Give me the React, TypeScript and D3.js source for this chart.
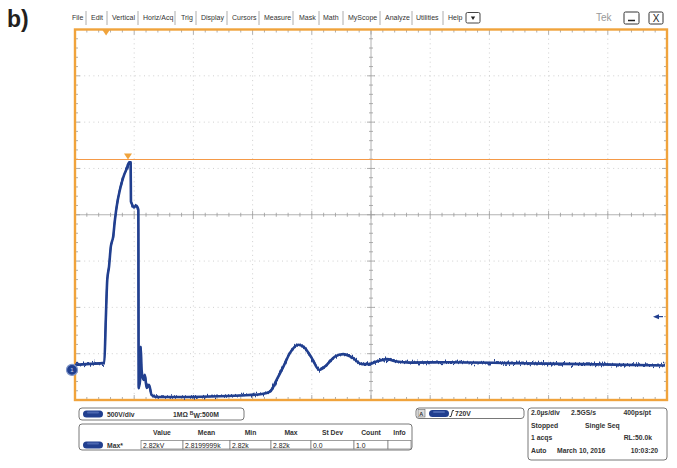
import React, { useEffect, useRef } from 'react';
import * as d3 from 'd3';

const W = 677;
const H = 468;

// menu bar of the scope UI
const menuItems = ['File', 'Edit', 'Vertical', 'Horiz/Acq', 'Trig', 'Display', 'Cursors', 'Measure', 'Mask', 'Math', 'MyScope', 'Analyze', 'Utilities', 'Help'];

// captured trace: time from left screen edge (µs), volts
const traceTime = [0, 0.51, 0.99, 1.04, 1.09, 1.15, 1.21, 1.29, 1.35, 1.43, 1.52, 1.63, 1.75, 1.83, 1.88, 1.89, 1.93, 1.99, 2.06, 2.14, 2.15, 2.2, 2.22, 2.25, 2.31, 2.36, 2.42, 2.5, 2.59, 2.76, 3.55, 4.56, 5.57, 6.32, 6.59, 6.81, 7.04, 7.26, 7.54, 7.77, 8.0, 8.25, 8.5, 8.78, 9.06, 9.35, 9.69, 9.91, 10.19, 10.53, 10.87, 11.32, 12.67, 14.92, 17.17, 19.93];
const traceVolts = [54, 65, 76, 541, 974, 1115, 1331, 1439, 1623, 1807, 1948, 2078, 2175, 2240, 2240, 1818, 1785, 1753, 1775, 1731, -195, -108, 249, 0, -108, -54, -195, -162, -271, -292, -292, -287, -276, -260, -235, -108, 36, 181, 271, 235, 127, 0, 54, 144, 170, 137, 62, 62, 90, 116, 90, 79, 83, 72, 62, 47];

// scope settings
const voltsPerDiv = 500;
const usPerDiv = 2;
const groundOffsetDiv = -3.35;
const triggerTimeUs = 1.05;
const cursorTimeUs = 1.79;
const cursorVolts = 2272;
const trigMarkVolts = 575;

// measurement readout
const measureHeaders = ['Value', 'Mean', 'Min', 'Max', 'St Dev', 'Count', 'Info'];
const measureValues = ['2.82kV', '2.8199999k', '2.82k', '2.82k', '0.0', '1.0', ''];

// acquisition readout rows (left, middle, right)
const acqRows = [
  ['2.0µs/div', '2.5GS/s', '400ps/pt'],
  ['Stopped', 'Single Seq', ''],
  ['1 acqs', '', 'RL:50.0k'],
  ['Auto', 'March 10, 2016', '10:03:20'],
];

const App: React.FC = () => {
  const svgRef = useRef<SVGSVGElement | null>(null);

  useEffect(() => {
    const svg = d3.select(svgRef.current);
    svg.selectAll('*').remove();

    const font = 'Liberation Sans, Arial, sans-serif';
    const orange = '#f0a33c';
    const blue = '#213f8f';
    const left = 75, right = 667, top = 29.5, bottom = 400;

    const x = d3.scaleLinear().domain([0, usPerDiv * 10]).range([left, right]);
    const y = d3
      .scaleLinear()
      .domain([(-4 - groundOffsetDiv) * voltsPerDiv, (4 - groundOffsetDiv) * voltsPerDiv])
      .range([bottom, top]);
    const xDiv = d3.scaleLinear().domain([0, 10]).range([left, right]);
    const yDiv = d3.scaleLinear().domain([-4, 4]).range([bottom, top]);

    svg.append('rect').attr('width', W).attr('height', H).attr('fill', '#fff');

    // jitter filter to give the trace its sampled-noise look (vertical only)
    const defs = svg.append('defs');
    const f = defs.append('filter').attr('id', 'noise').attr('filterUnits', 'userSpaceOnUse')
      .attr('x', 0).attr('y', 0).attr('width', W).attr('height', H);
    f.append('feTurbulence').attr('type', 'fractalNoise').attr('baseFrequency', '0.9 0.02').attr('numOctaves', 2).attr('seed', 3).attr('result', 'turb');
    f.append('feColorMatrix').attr('in', 'turb').attr('type', 'matrix')
      .attr('values', '0 0 0 0 0.5  0 1 0 0 0  0 0 0 0 0  0 0 0 0 1').attr('result', 'map');
    f.append('feDisplacementMap').attr('in', 'SourceGraphic').attr('in2', 'map').attr('scale', 9)
      .attr('xChannelSelector', 'R').attr('yChannelSelector', 'G');

    // panel label
    svg
      .append('text')
      .attr('x', 7)
      .attr('y', 27)
      .attr('font-family', 'Liberation Sans Narrow, Arial Narrow, sans-serif')
      .attr('font-weight', 'bold')
      .attr('font-size', 23)
      .attr('fill', '#231f20')
      .text('b)');

    // menu bar
    const menuX = [72, 91, 112, 143, 181, 201, 232, 264, 299, 323, 348, 385, 416, 448];
    const sepX = [86, 107, 138, 175, 196, 227, 259, 293, 319, 343, 380, 412, 443];
    const menu = svg.append('g').attr('font-family', font).attr('font-size', 7).attr('fill', '#333');
    menuItems.forEach((m, i) => {
      menu.append('text').attr('x', menuX[i]).attr('y', 20).text(m);
    });
    sepX.forEach(sx => {
      menu.append('line').attr('x1', sx).attr('x2', sx).attr('y1', 11).attr('y2', 25).attr('stroke', '#999').attr('stroke-width', 0.8);
    });
    menu.append('rect').attr('x', 466).attr('y', 12.5).attr('width', 14).attr('height', 10.5).attr('rx', 1.5).attr('fill', '#fff').attr('stroke', '#444');
    menu.append('path').attr('d', 'M470.8,16.5 L475.2,16.5 L473,20 Z').attr('fill', '#222');
    menu.append('text').attr('x', 596).attr('y', 21).attr('font-size', 10).attr('fill', '#999').text('Tek');
    menu.append('rect').attr('x', 624).attr('y', 12).attr('width', 15).attr('height', 12).attr('rx', 1.5).attr('fill', '#fff').attr('stroke', '#333');
    menu.append('line').attr('x1', 628).attr('x2', 635).attr('y1', 20.5).attr('y2', 20.5).attr('stroke', '#222').attr('stroke-width', 1.5);
    menu.append('rect').attr('x', 649).attr('y', 12).attr('width', 14).attr('height', 12).attr('rx', 1.5).attr('fill', '#fff').attr('stroke', '#333');
    menu.append('text').attr('x', 656).attr('y', 22).attr('font-size', 10).attr('text-anchor', 'middle').attr('fill', '#222').text('X');

    // graticule
    const grid = svg.append('g');
    d3.range(1, 10).filter(i => i !== 5).forEach(i => {
      grid.append('line').attr('x1', xDiv(i)).attr('x2', xDiv(i)).attr('y1', top).attr('y2', bottom)
        .attr('stroke', '#c4c4c4').attr('stroke-width', 0.8).attr('stroke-dasharray', '1,3.6');
    });
    d3.range(-3, 4).filter(j => j !== 0).forEach(j => {
      grid.append('line').attr('x1', left).attr('x2', right).attr('y1', yDiv(j)).attr('y2', yDiv(j))
        .attr('stroke', '#c4c4c4').attr('stroke-width', 0.8).attr('stroke-dasharray', '1,3.6');
    });
    const cx = xDiv(5), cy = yDiv(0);
    grid.append('line').attr('x1', left).attr('x2', right).attr('y1', cy).attr('y2', cy).attr('stroke', '#a0a0a0').attr('stroke-width', 0.8);
    grid.append('line').attr('x1', cx).attr('x2', cx).attr('y1', top).attr('y2', bottom).attr('stroke', '#a0a0a0').attr('stroke-width', 0.8);

    const tickColor = '#9a9a9a';
    d3.range(0, 50.5, 1).forEach(k => {
      const d = k / 5;
      const major = k % 5 === 0;
      const xx = xDiv(d);
      const len = major ? 4 : 2;
      grid.append('line').attr('x1', xx).attr('x2', xx).attr('y1', cy - len).attr('y2', cy + len).attr('stroke', tickColor).attr('stroke-width', 0.8);
      grid.append('line').attr('x1', xx).attr('x2', xx).attr('y1', top).attr('y2', top + (major ? 5 : 3)).attr('stroke', tickColor).attr('stroke-width', 0.8);
      grid.append('line').attr('x1', xx).attr('x2', xx).attr('y1', bottom).attr('y2', bottom - (major ? 5 : 3)).attr('stroke', tickColor).attr('stroke-width', 0.8);
    });
    d3.range(-20, 20.5, 1).forEach(k => {
      const d = k / 5;
      const major = k % 5 === 0;
      const yy = yDiv(d);
      const len = major ? 4 : 2;
      grid.append('line').attr('x1', cx - len).attr('x2', cx + len).attr('y1', yy).attr('y2', yy).attr('stroke', tickColor).attr('stroke-width', 0.8);
      grid.append('line').attr('x1', left).attr('x2', left + (major ? 5 : 3)).attr('y1', yy).attr('y2', yy).attr('stroke', tickColor).attr('stroke-width', 0.8);
      grid.append('line').attr('x1', right).attr('x2', right - (major ? 5 : 3)).attr('y1', yy).attr('y2', yy).attr('stroke', tickColor).attr('stroke-width', 0.8);
    });

    // cursor line and markers
    const cyV = Math.round(y(cursorVolts)) + 0.5;
    svg.append('line').attr('x1', left).attr('x2', right).attr('y1', cyV).attr('y2', cyV).attr('stroke', '#f59a48').attr('stroke-width', 1.1);
    const cxT = x(cursorTimeUs);
    svg.append('path').attr('d', `M${cxT - 4},${cyV - 6} L${cxT + 4},${cyV - 6} L${cxT},${cyV} Z`).attr('fill', orange);
    const tx = x(triggerTimeUs);
    svg.append('path').attr('d', `M${tx - 4},${top} L${tx + 4},${top} L${tx},${top + 6} Z`).attr('fill', orange);

    // frame
    svg.append('rect').attr('x', left).attr('y', top).attr('width', right - left).attr('height', bottom - top)
      .attr('fill', 'none').attr('stroke', orange).attr('stroke-width', 2.4);

    // trace
    const pts: [number, number][] = traceTime.map((t, i) => [t, traceVolts[i]]);
    const line = d3
      .line<[number, number]>()
      .x(d => x(d[0]))
      .y(d => y(d[1]))
      .curve(d3.curveMonotoneX);
    const trace = svg.append('g');
    trace.append('path').attr('d', line(pts)).attr('fill', 'none').attr('stroke', blue)
      .attr('stroke-width', 2.6).attr('stroke-linejoin', 'round');
    trace.append('path').attr('d', line(pts)).attr('fill', 'none').attr('stroke', blue)
      .attr('stroke-width', 1.6).attr('stroke-linejoin', 'round').attr('filter', 'url(#noise)');

    // ground marker
    const gy = y(0);
    svg.append('circle').attr('cx', left - 3).attr('cy', gy).attr('r', 5.5).attr('fill', blue).attr('stroke', '#7f95c8').attr('stroke-width', 1.2);
    svg.append('text').attr('x', left - 3).attr('y', gy + 2.3).attr('text-anchor', 'middle').attr('font-family', font)
      .attr('font-size', 6).attr('fill', '#c8d4f0').text('1');

    // trigger level arrow at right edge
    const ty = y(trigMarkVolts);
    svg.append('path').attr('d', `M${right - 14},${ty} L${right - 8},${ty - 2.5} L${right - 8},${ty + 2.5} Z`).attr('fill', blue);
    svg.append('line').attr('x1', right - 9).attr('x2', right - 4).attr('y1', ty).attr('y2', ty).attr('stroke', blue).attr('stroke-width', 1.2);

    // readout panels
    const panel = svg.append('g').attr('font-family', font).attr('font-size', 6.8).attr('font-weight', 'bold').attr('fill', '#333');
    const pill = (px: number, py: number) => {
      panel.append('rect').attr('x', px).attr('y', py).attr('width', 20).attr('height', 7).attr('rx', 3.5).attr('fill', blue);
      panel.append('rect').attr('x', px + 4).attr('y', py + 1).attr('width', 12).attr('height', 2).attr('rx', 1).attr('fill', '#4a66b0');
    };
    const box = (bx: number, by: number, bw: number, bh: number) => {
      panel.append('rect').attr('x', bx).attr('y', by).attr('width', bw).attr('height', bh).attr('rx', 3)
        .attr('fill', '#fff').attr('stroke', '#555').attr('stroke-width', 0.8);
    };

    box(79, 408, 165, 12);
    pill(83, 410.5);
    panel.append('text').attr('x', 107).attr('y', 417).text('500V/div');
    const bw = panel.append('text').attr('x', 173).attr('y', 417);
    bw.append('tspan').text('1MΩ ');
    bw.append('tspan').attr('font-size', 5).attr('dy', -2).text('B');
    bw.append('tspan').attr('font-size', 6.8).attr('dy', 3).text('W');
    bw.append('tspan').attr('dy', -1).text(':500M');

    box(79, 424, 333, 26);
    pill(83, 441.5);
    panel.append('text').attr('x', 107).attr('y', 448).text('Max*');
    const cellX = [141, 183, 230, 271, 311, 354, 388, 411];
    measureHeaders.forEach((h, i) => {
      panel.append('text').attr('x', (cellX[i] + cellX[i + 1]) / 2).attr('y', 435).attr('text-anchor', 'middle').text(h);
    });
    measureValues.forEach((v, i) => {
      panel.append('rect').attr('x', cellX[i]).attr('y', 440.5).attr('width', cellX[i + 1] - cellX[i]).attr('height', 8.5)
        .attr('fill', '#fff').attr('stroke', '#777').attr('stroke-width', 0.7);
      panel.append('text').attr('x', cellX[i] + 2).attr('y', 447.5).attr('font-weight', 'normal').attr('fill', '#222').text(v);
    });

    box(416, 408, 108, 10.5);
    panel.append('rect').attr('x', 418).attr('y', 409.5).attr('width', 7).attr('height', 7.5).attr('fill', '#ddd').attr('stroke', '#666').attr('stroke-width', 0.6);
    panel.append('text').attr('x', 419.2).attr('y', 415.8).attr('font-size', 5.5).text('A');
    pill(429, 410);
    panel.append('path').attr('d', 'M449.5,416.5 L451,416.5 L452.5,410.5 L454,410.5').attr('fill', 'none').attr('stroke', '#222').attr('stroke-width', 0.9);
    panel.append('text').attr('x', 455).attr('y', 416).text('720V');

    box(528, 408, 139, 52);
    const rowY = [415, 428, 440, 453];
    const midX = [571, 585, 0, 557];
    const rightX = [651, 0, 652, 658];
    acqRows.forEach((r, i) => {
      panel.append('text').attr('x', 531).attr('y', rowY[i]).text(r[0]);
      if (r[1]) panel.append('text').attr('x', midX[i]).attr('y', rowY[i]).text(r[1]);
      if (r[2]) panel.append('text').attr('x', rightX[i]).attr('y', rowY[i]).attr('text-anchor', 'end').text(r[2]);
    });
  }, []);

  return (
    <svg
      ref={svgRef}
      width={W}
      height={H}
      style={{ position: 'absolute', left: 0, top: 0, display: 'block' }}
    />
  );
};

export default App;
